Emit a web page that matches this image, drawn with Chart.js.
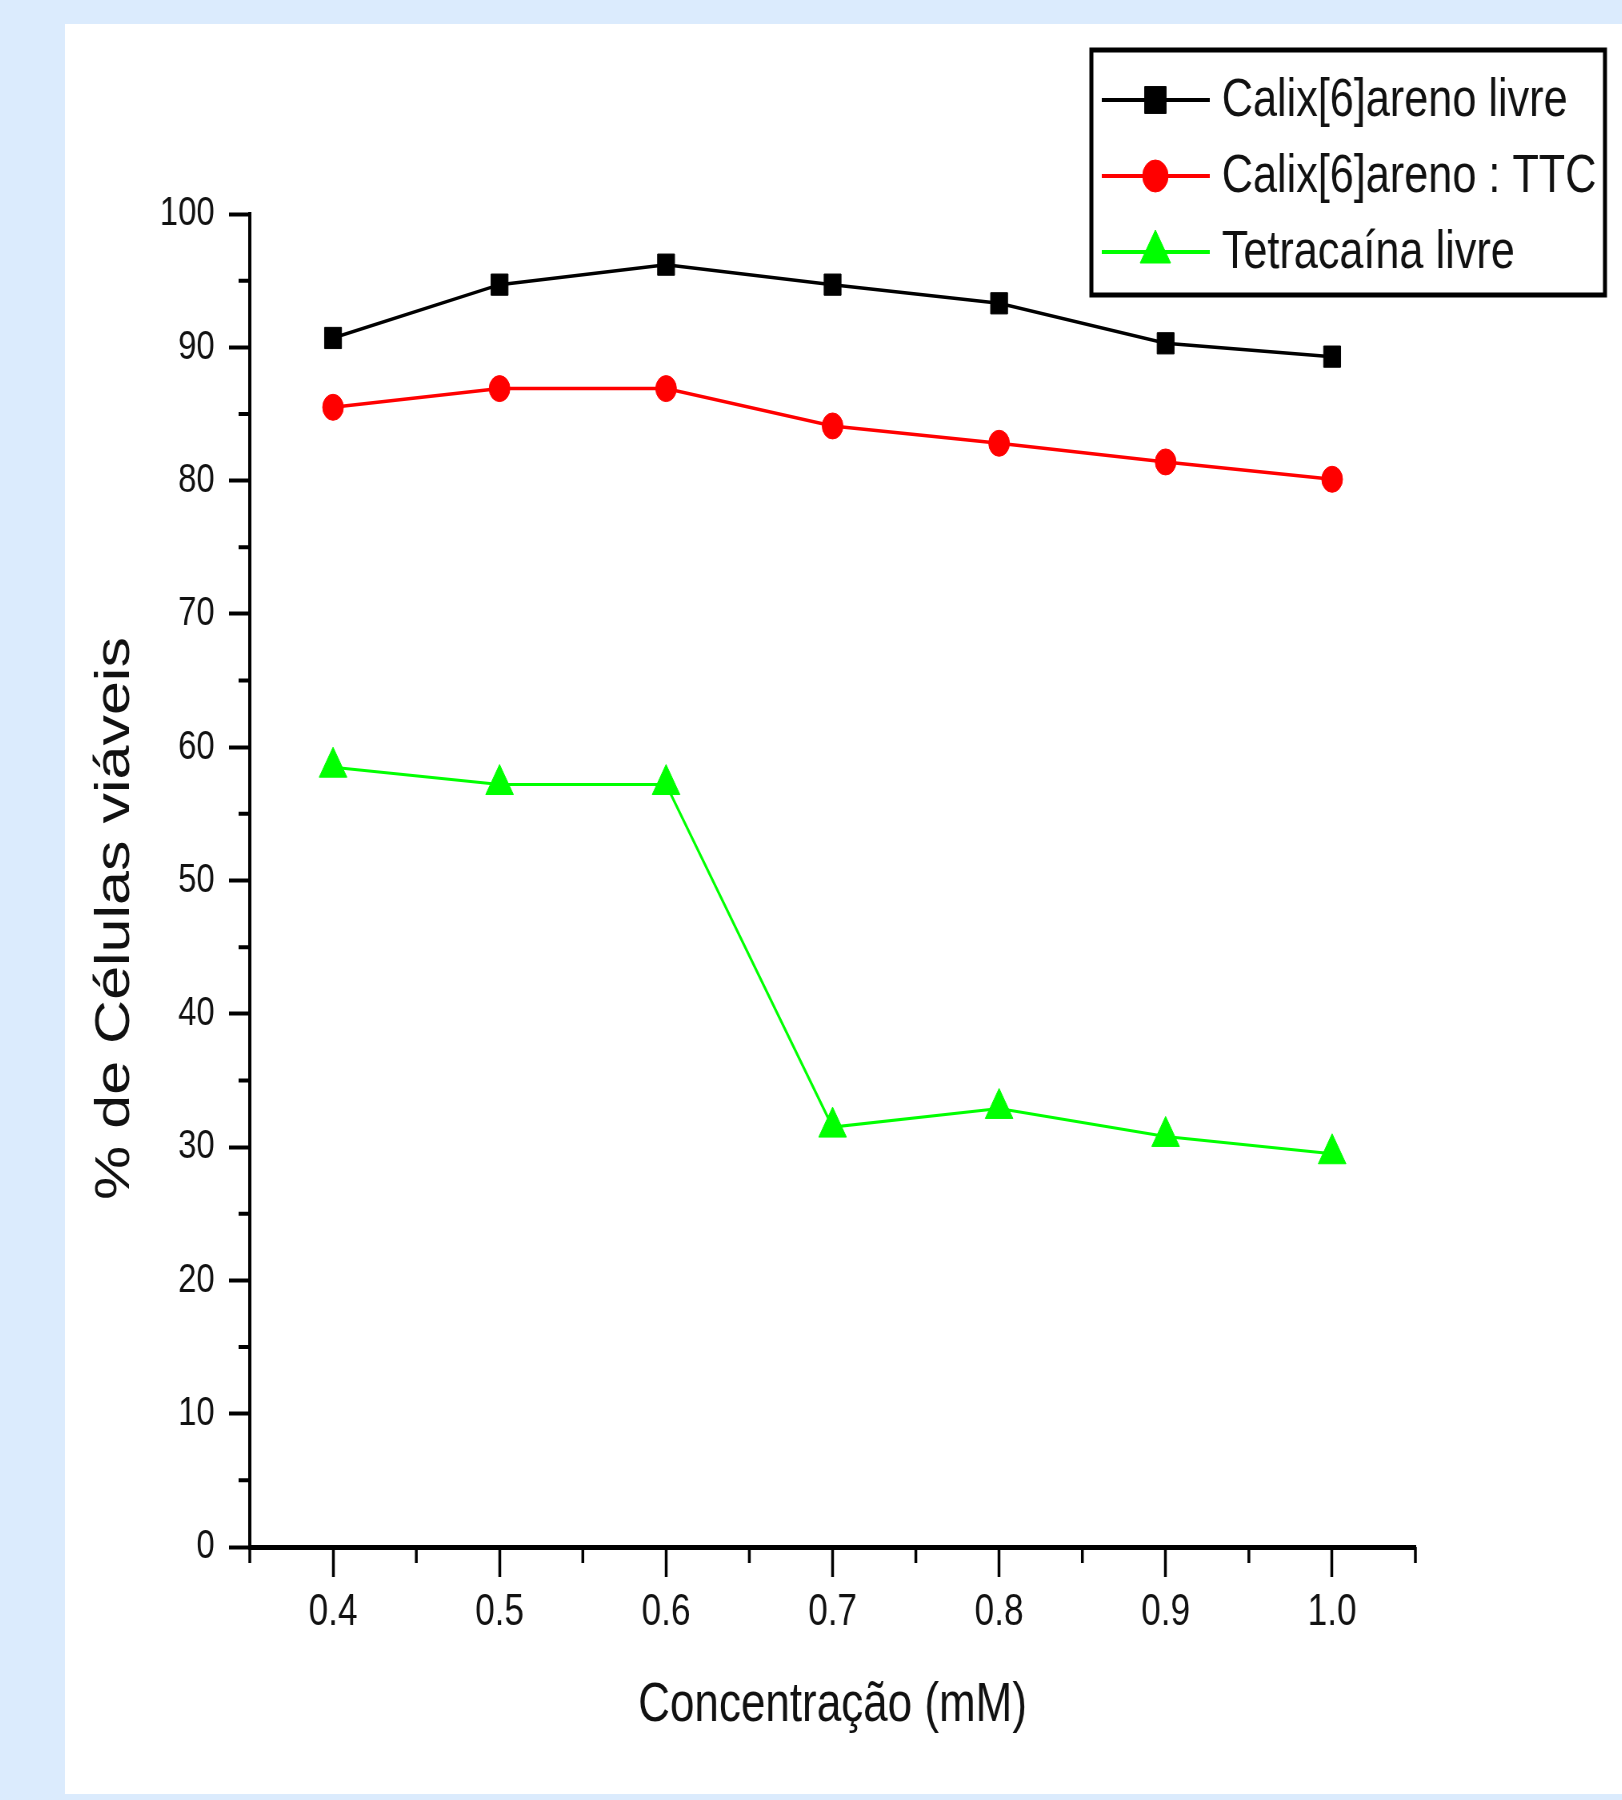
<!DOCTYPE html>
<html>
<head>
<meta charset="utf-8">
<title>% de Células viáveis</title>
<script src="https://cdn.jsdelivr.net/npm/chart.js"></script>
<style>
    html, body { margin: 0; padding: 0; background: #dbebfd; overflow: hidden; }
    body { width: 1622px; height: 1800px; position: relative; }
    #panel { position: absolute; left: 65px; top: 24px; width: 1557px; height: 1770px; background: #fff; overflow: hidden; }
    /* the original figure is squashed horizontally, so the canvas is too */
    #squash { position: absolute; left: 0; top: 0; transform: scaleX(0.8); transform-origin: 0 0; }
</style>
</head>
<body>
<div id="panel"><div id="squash"><canvas id="viabilidadeChart" width="1946" height="1770"></canvas></div></div>
<script>
// Data
const concentracoes = [0.4, 0.5, 0.6, 0.7, 0.8, 0.9, 1.0];
const calixLivre = [90.7, 94.7, 96.2, 94.7, 93.3, 90.3, 89.3];
const calixTTC = [85.5, 86.9, 86.9, 84.1, 82.8, 81.4, 80.1];
const tetracainaLivre = [58.5, 57.2, 57.2, 31.5, 32.9, 30.8, 29.5];

const seriesLabels = ['Calix[6]areno livre', 'Calix[6]areno : TTC', 'Tetracaína livre'];
const yTitle = '% de Células viáveis';
const xTitle = 'Concentração (mM)';

// Axis ticks
const xTicks = [0.4, 0.5, 0.6, 0.7, 0.8, 0.9, 1.0];
const xMinorTicks = [0.35, 0.45, 0.55, 0.65, 0.75, 0.85, 0.95, 1.05];
const yMinorTicks = [5, 15, 25, 35, 45, 55, 65, 75, 85, 95];

const FONT = '"Liberation Sans", Arial, sans-serif';

function toPoints(values) {
    return concentracoes.map((x, i) => ({ x: x, y: values[i] }));
}

// Minor ticks (the library only draws one tick length per axis)
const minorTicksPlugin = {
    id: 'minorTicks',
    afterDraw(chart) {
        const { ctx, scales: { x, y } } = chart;
        ctx.save();
        ctx.strokeStyle = '#000';
        ctx.lineWidth = 3.5;
        ctx.beginPath();
        xMinorTicks.forEach(v => {
            const px = x.getPixelForValue(v);
            ctx.moveTo(px, x.top);
            ctx.lineTo(px, x.top + 16);
        });
        ctx.stroke();
        ctx.lineWidth = 4;
        ctx.beginPath();
        yMinorTicks.forEach(v => {
            const py = y.getPixelForValue(v);
            ctx.moveTo(y.right, py);
            ctx.lineTo(y.right - 14, py);
        });
        ctx.stroke();
        ctx.restore();
    }
};

// Y axis title, sitting a little below the middle of the axis like the original
const yTitlePlugin = {
    id: 'yTitle',
    afterDraw(chart) {
        const { ctx, chartArea } = chart;
        const cy = (chartArea.top + chartArea.bottom) / 2 + 38;
        ctx.save();
        ctx.translate(63, cy);
        ctx.rotate(-Math.PI / 2);
        ctx.fillStyle = '#111';
        ctx.font = '61px ' + FONT;
        ctx.textAlign = 'center';
        ctx.textBaseline = 'middle';
        ctx.fillText(yTitle, 0, 0);
        ctx.restore();
    }
};

// Boxed legend in the top right corner
const boxLegendPlugin = {
    id: 'boxLegend',
    afterDraw(chart) {
        const ctx = chart.ctx;
        const legendRadius = [19, 16, 22];
        ctx.save();
        ctx.strokeStyle = '#000';
        ctx.lineWidth = 5;
        ctx.strokeRect(1283, 26, 642, 245);

        chart.data.datasets.forEach((ds, i) => {
            const yy = 76 + i * 76;
            ctx.strokeStyle = ds.borderColor;
            ctx.lineWidth = 4;
            ctx.beginPath();
            ctx.moveTo(1296, yy);
            ctx.lineTo(1431, yy);
            ctx.stroke();

            ctx.fillStyle = ds.pointBackgroundColor;
            ctx.lineWidth = 1;
            Chart.helpers.drawPoint(ctx, {
                pointStyle: ds.pointStyle,
                radius: legendRadius[i],
                rotation: 0,
                borderWidth: 1
            }, 1363, yy);

            ctx.fillStyle = '#111';
            ctx.font = '54px ' + FONT;
            ctx.textAlign = 'left';
            ctx.textBaseline = 'middle';
            ctx.fillText(ds.label, 1446, yy + 1);
        });
        ctx.restore();
    }
};

const ctx = document.getElementById('viabilidadeChart').getContext('2d');

const viabilidadeChart = new Chart(ctx, {
    type: 'line',
    data: {
        datasets: [{
            label: seriesLabels[0],
            data: toPoints(calixLivre),
            borderColor: '#000000',
            backgroundColor: '#000000',
            borderWidth: 3.5,
            pointStyle: 'rect',
            pointRadius: 15,
            pointBackgroundColor: '#000000',
            pointBorderColor: '#000000',
            pointBorderWidth: 1,
            tension: 0,
            fill: false
        }, {
            label: seriesLabels[1],
            data: toPoints(calixTTC),
            borderColor: '#ff0000',
            backgroundColor: '#ff0000',
            borderWidth: 3.5,
            pointStyle: 'circle',
            pointRadius: 13,
            pointBackgroundColor: '#ff0000',
            pointBorderColor: '#ff0000',
            pointBorderWidth: 1,
            tension: 0,
            fill: false
        }, {
            label: seriesLabels[2],
            data: toPoints(tetracainaLivre),
            borderColor: '#00ff00',
            backgroundColor: '#00ff00',
            borderWidth: 3,
            pointStyle: 'triangle',
            pointRadius: 20,
            pointBackgroundColor: '#00ff00',
            pointBorderColor: '#00ff00',
            pointBorderWidth: 1,
            tension: 0,
            fill: false
        }]
    },
    options: {
        responsive: false,
        animation: false,
        devicePixelRatio: 1,
        layout: {
            padding: { left: 0, top: 190, right: 258, bottom: 55 }
        },
        plugins: {
            legend: { display: false },
            tooltip: { enabled: false }
        },
        scales: {
            x: {
                type: 'linear',
                min: 0.35,
                max: 1.05,
                afterBuildTicks: function(scale) {
                    scale.ticks = xTicks.map(v => ({ value: v }));
                },
                afterFit: function(scale) {
                    scale.height = 192;
                },
                border: { display: true, color: '#000', width: 5 },
                grid: {
                    drawOnChartArea: false,
                    drawTicks: true,
                    tickLength: 30,
                    tickWidth: 3.5,
                    tickColor: '#000'
                },
                ticks: {
                    padding: 9,
                    color: '#111',
                    font: { family: FONT, size: 44 },
                    maxRotation: 0,
                    callback: function(value) {
                        return value.toFixed(1);
                    }
                },
                title: {
                    display: true,
                    text: xTitle,
                    color: '#111',
                    font: { family: FONT, size: 55 },
                    padding: { top: 0, bottom: 0 }
                }
            },
            y: {
                min: 0,
                max: 100,
                afterFit: function(scale) {
                    scale.width = 231;
                },
                border: { display: true, color: '#000', width: 4 },
                grid: {
                    drawOnChartArea: false,
                    drawTicks: true,
                    tickLength: 26,
                    tickWidth: 4,
                    tickColor: '#000'
                },
                ticks: {
                    stepSize: 10,
                    padding: 18,
                    color: '#111',
                    font: { family: FONT, size: 41 }
                },
                title: { display: false }
            }
        }
    },
    plugins: [minorTicksPlugin, yTitlePlugin, boxLegendPlugin]
});
</script>
</body>
</html>
